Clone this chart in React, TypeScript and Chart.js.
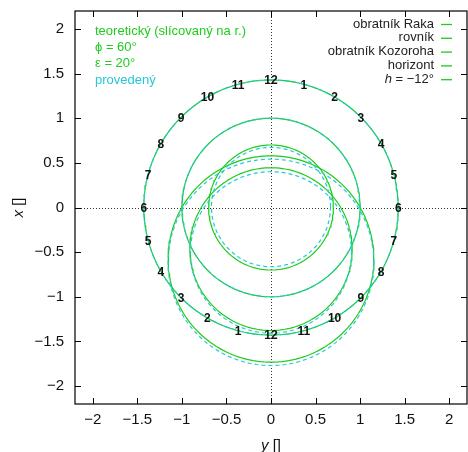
import React, { useEffect, useRef } from "react";
import { Chart, registerables } from "chart.js";

Chart.register(...registerables);

// ---- data ----
const curveNames = ["obratník Raka", "rovník", "obratník Kozoroha", "horizont", "h = −12°"];
// circle centres on the vertical ("x") axis and radii, theoretical curves
const theoryCenter = [0, 0, 0, -0.577, -0.466];
const theoryRadius = [0.7, 1.0, 1.428, 1.155, 0.911];
// executed ("provedený") curves
const actualCenter = [0.005, 0, 0, -0.614, -0.503];
const actualRadius = [0.668, 1.0, 1.428, 1.155, 0.904];
// hour marks on the tropic of Capricorn, clockwise from the top, 15° apart
const hourLabels = ["12", "1", "2", "3", "4", "5", "6", "7", "8", "9", "10", "11",
  "12", "1", "2", "3", "4", "5", "6", "7", "8", "9", "10", "11"];
const hourStepDeg = 15;
const hourCircleIndex = 2;
const axisMin = -2.2;
const axisMax = 2.2;
const tickValues = [-2, -1.5, -1, -0.5, 0, 0.5, 1, 1.5, 2];
const infoLines = ["teoretický (slícovaný na r.)", "ϕ = 60°", "ε = 20°", "provedený"];

const GREEN = "#1dcc1d";
const CYAN = "#25c8d6";
const FONT = "'Liberation Sans', Arial, Helvetica, sans-serif";

function circle(cx: number, r: number) {
  const pts: { x: number; y: number }[] = [];
  for (let d = 0; d <= 360; d += 2) {
    const t = (d * Math.PI) / 180;
    pts.push({ x: r * Math.cos(t), y: cx + r * Math.sin(t) });
  }
  return pts;
}

const fmt = (v: number) => String(v).replace("-", "−");

const decorPlugin = {
  id: "decor",
  beforeDatasetsDraw(chart: any) {
    const { ctx, chartArea: a, scales } = chart;
    const x0 = Math.round(scales.x.getPixelForValue(0)) + 0.5;
    const y0 = Math.round(scales.y.getPixelForValue(0)) + 0.5;
    ctx.save();
    ctx.strokeStyle = "#333";
    ctx.lineWidth = 1;
    ctx.setLineDash([1, 2]);
    ctx.beginPath();
    ctx.moveTo(x0, a.top);
    ctx.lineTo(x0, a.bottom);
    ctx.moveTo(a.left, y0);
    ctx.lineTo(a.right, y0);
    ctx.stroke();
    ctx.restore();
  },
  afterDatasetsDraw(chart: any) {
    const { ctx, scales } = chart;
    const R = theoryRadius[hourCircleIndex];
    ctx.save();
    ctx.fillStyle = "#111";
    ctx.font = `bold 12px ${FONT}`;
    ctx.textAlign = "center";
    ctx.textBaseline = "middle";
    hourLabels.forEach((lab, k) => {
      const t = ((90 - hourStepDeg * k) * Math.PI) / 180;
      const px = scales.x.getPixelForValue(R * Math.cos(t));
      const py = scales.y.getPixelForValue(R * Math.sin(t));
      ctx.fillText(lab, px, py + 1);
    });
    ctx.restore();
  },
  afterDraw(chart: any) {
    const { ctx, chartArea: a, scales } = chart;
    ctx.save();
    // frame
    ctx.strokeStyle = "#000";
    ctx.lineWidth = 1.2;
    ctx.strokeRect(a.left, a.top, a.right - a.left, a.bottom - a.top);
    // inward ticks on all sides
    ctx.lineWidth = 1;
    ctx.beginPath();
    tickValues.forEach((v) => {
      const px = Math.round(scales.x.getPixelForValue(v)) + 0.5;
      ctx.moveTo(px, a.bottom);
      ctx.lineTo(px, a.bottom - 6);
      ctx.moveTo(px, a.top);
      ctx.lineTo(px, a.top + 6);
      const py = Math.round(scales.y.getPixelForValue(v)) + 0.5;
      ctx.moveTo(a.left, py);
      ctx.lineTo(a.left + 6, py);
      ctx.moveTo(a.right, py);
      ctx.lineTo(a.right - 6, py);
    });
    ctx.stroke();

    // info text top-left
    ctx.font = `13px ${FONT}`;
    ctx.textAlign = "left";
    ctx.textBaseline = "middle";
    infoLines.forEach((s, i) => {
      ctx.fillStyle = i === infoLines.length - 1 ? CYAN : GREEN;
      ctx.fillText(s, 95, 31 + i * 16.4);
    });

    // legend top-right
    curveNames.forEach((name, i) => {
      const yy = 24 + i * 13.8;
      ctx.fillStyle = "#222";
      ctx.textAlign = "right";
      if (name.startsWith("h ")) {
        const rest = name.slice(1);
        ctx.font = `13px ${FONT}`;
        const w = ctx.measureText(rest).width;
        ctx.fillText(rest, 434, yy);
        ctx.font = `italic 13px ${FONT}`;
        ctx.fillText("h", 434 - w, yy);
      } else {
        ctx.font = `13px ${FONT}`;
        ctx.fillText(name, 434, yy);
      }
      ctx.strokeStyle = GREEN;
      ctx.lineWidth = 1.3;
      ctx.beginPath();
      ctx.moveTo(441, yy + 0.5);
      ctx.lineTo(452, yy + 0.5);
      ctx.stroke();
    });

    // axis titles
    ctx.fillStyle = "#111";
    ctx.textBaseline = "alphabetic";
    ctx.font = `15px ${FONT}`;
    const br = " []";
    const wBr = ctx.measureText(br).width;
    ctx.font = `italic 15px ${FONT}`;
    const wy = ctx.measureText("y").width;
    const cx = (a.left + a.right) / 2;
    const startX = cx - (wy + wBr) / 2;
    ctx.textAlign = "left";
    ctx.fillText("y", startX, 450);
    ctx.font = `15px ${FONT}`;
    ctx.fillText(br, startX + wy, 450);

    ctx.translate(23, (a.top + a.bottom) / 2);
    ctx.rotate(-Math.PI / 2);
    ctx.font = `italic 15px ${FONT}`;
    const wx = ctx.measureText("x").width;
    const sx = -(wx + wBr) / 2;
    ctx.fillText("x", sx, 0);
    ctx.font = `15px ${FONT}`;
    ctx.fillText(br, sx + wx, 0);
    ctx.restore();
  },
};

export default function App() {
  const ref = useRef<HTMLCanvasElement>(null);
  useEffect(() => {
    if (!ref.current) return;
    const datasets: any[] = [];
    curveNames.forEach((name, i) => {
      datasets.push({
        label: name + " (provedený)",
        data: circle(actualCenter[i], actualRadius[i]),
        showLine: true,
        borderColor: CYAN,
        borderWidth: 1.2,
        borderDash: [4, 3],
        pointRadius: 0,
        fill: false,
        order: 0,
      });
    });
    curveNames.forEach((name, i) => {
      datasets.push({
        label: name,
        data: circle(theoryCenter[i], theoryRadius[i]),
        showLine: true,
        borderColor: GREEN,
        borderWidth: 1.2,
        pointRadius: 0,
        fill: false,
        order: 1,
      });
    });
    const tickOpts = (pad: number) => ({
      stepSize: 0.5,
      includeBounds: false,
      autoSkip: false,
      maxRotation: 0,
      padding: pad,
      color: "#111",
      font: { family: FONT, size: 15 },
      callback: (v: any) => fmt(Number(v)),
    });
    const noPad = (s: any) => {
      s.paddingTop = 0;
      s.paddingBottom = 0;
      s.paddingLeft = 0;
      s.paddingRight = 0;
    };
    const chart = new Chart(ref.current, {
      type: "scatter",
      data: { datasets },
      options: {
        animation: false,
        responsive: false,
        maintainAspectRatio: false,
        devicePixelRatio: 1,
        layout: { padding: { top: 11, right: 1, left: 0, bottom: 0 } },
        plugins: { legend: { display: false }, tooltip: { enabled: false } },
        elements: { line: { tension: 0 } },
        scales: {
          x: {
            type: "linear",
            min: axisMin,
            max: axisMax,
            grid: { display: false, drawTicks: false },
            border: { display: false },
            ticks: tickOpts(7),
            afterFit: (s: any) => {
              s.height = 48;
              noPad(s);
            },
          },
          y: {
            type: "linear",
            min: axisMin,
            max: axisMax,
            grid: { display: false, drawTicks: false },
            border: { display: false },
            ticks: tickOpts(11),
            afterFit: (s: any) => {
              s.width = 75;
              noPad(s);
            },
          },
        },
      } as any,
      plugins: [decorPlugin],
    });
    return () => chart.destroy();
  }, []);
  return (
    <div style={{ position: "fixed", left: 0, top: 0, width: 468, height: 452, background: "#fff" }}>
      <canvas ref={ref} width={468} height={452} style={{ display: "block" }} />
    </div>
  );
}
